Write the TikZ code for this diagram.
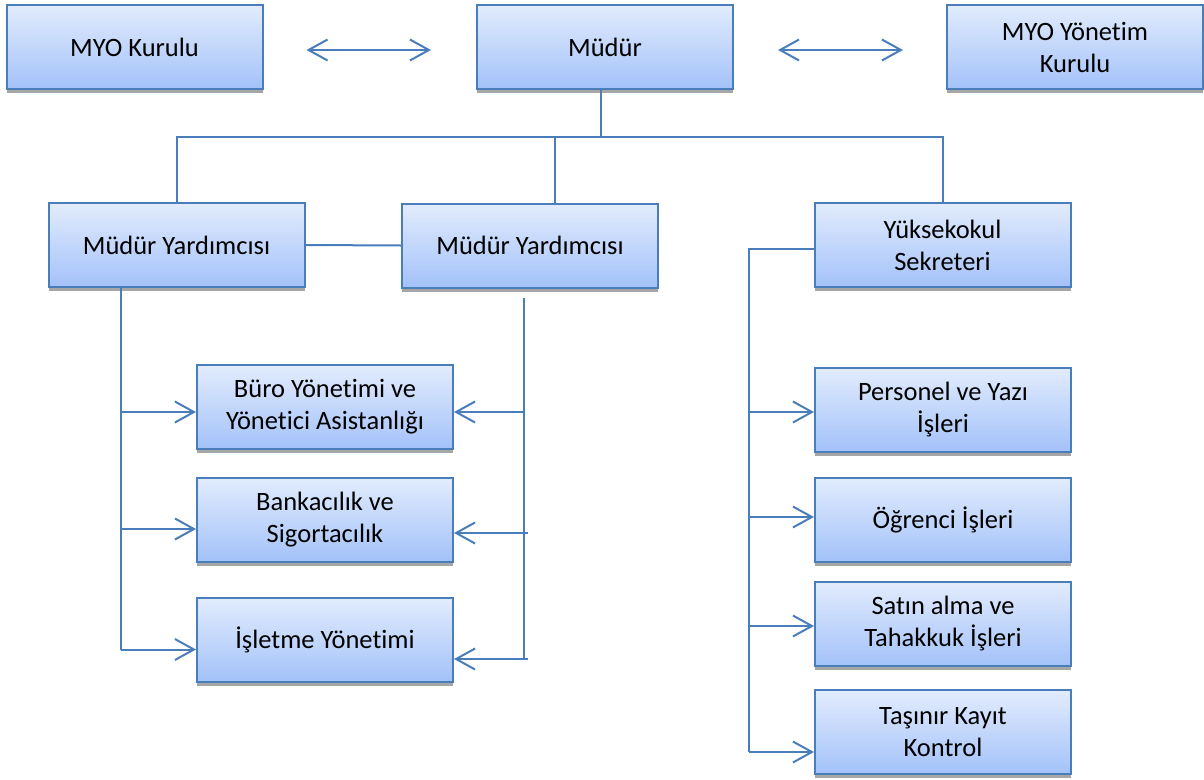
\documentclass[tikz,border=0pt]{standalone}
\usepackage{fontspec}
\setmainfont{Carlito}[Ligatures=NoCommon]
\usetikzlibrary{arrows.meta,shadows,calc}
\definecolor{orgline}{RGB}{74,126,187}
\definecolor{orgtop}{RGB}{226,236,253}
\definecolor{orgbot}{RGB}{163,194,249}

\begin{document}
\begin{tikzpicture}[x=1pt,y=-1pt,
    unit/.style={draw=orgline,line width=2pt,top color=orgtop,bottom color=orgbot,
        minimum width=256pt,minimum height=84pt,align=center,
        font=\fontsize{26.5}{32}\selectfont,
        drop shadow={shadow xshift=0pt,shadow yshift=-4pt,fill=black!35,opacity=1}},
    link/.style={draw=orgline,line width=2pt},
    feed/.style={link,-{Straight Barb[length=19pt,width=21pt]}},
    both/.style={link,{Straight Barb[length=19pt,width=21pt]}-{Straight Barb[length=19pt,width=21pt]}}]
    \useasboundingbox (0,0) rectangle (1204,779);

    % top row
    \node[unit] (kurul) at (134.5,47) {MYO Kurulu};
    \node[unit] (mudur) at (605,47) {Müdür};
    \node[unit] (yonetim) at (1075,47) {MYO Yönetim\\Kurulu};
    \draw[both] ($(kurul.east)+(43,3)$) -- ($(mudur.west)+(-45,3)$);
    \draw[both] ($(mudur.east)+(44,3)$) -- ($(yonetim.west)+(-43,3)$);

    % second row
    \node[unit] (my1) at (176.5,245) {Müdür Yardımcısı};
    \node[unit] (my2) at (530,245.5) {Müdür Yardımcısı};
    \node[unit] (ys) at (942.5,245) {Yüksekokul\\Sekreteri};
    \coordinate (bus) at (601,137);
    \draw[link] ($(mudur.south)+(-4,0)$) -- (bus);
    \draw[link] (my1.north) |- (ys.north |- bus) -- (ys.north);
    \draw[link] ($(my2.north)+(25,0)$) -- ($(my2.north |- bus)+(25,0)$);
    \draw[link] (my1.east) -- (my2.west);

    % programmes
    \node[unit] (buro) at (325,407) {Büro Yönetimi ve\\Yönetici Asistanlığı};
    \node[unit] (bank) at (325,519.5) {Bankacılık ve\\Sigortacılık};
    \node[unit] (isl) at (325,639.5) {İşletme Yönetimi};
    \coordinate (lt) at ($(my1.south)+(-55.5,0)$);
    \coordinate (rt) at (524,298);
    \draw[link] (lt) -- ($(lt |- isl.west)+(0,10)$);
    \draw[link] (rt) -- ($(rt |- isl.east)+(0,19.5)$);
    \foreach \n/\d in {buro/5,bank/9.5,isl/10}
        \draw[feed] ($(lt |- \n.west)+(0,\d)$) -- ($(\n.west)+(0,\d)$);
    \foreach \n/\d/\e in {buro/5/0,bank/13.5/4,isl/19.5/4}
        \draw[feed] ($(rt |- \n.east)+(\e,\d)$) -- ($(\n.east)+(0,\d)$);

    % offices
    \node[unit] (pers) at (943,409.5) {Personel ve Yazı\\İşleri};
    \node[unit] (ogr) at (943,519.5) {Öğrenci İşleri};
    \node[unit] (satin) at (943,624) {Satın alma ve\\Tahakkuk İşleri};
    \node[unit] (tas) at (943,732) {Taşınır Kayıt\\Kontrol};
    \coordinate (st) at (749,249);
    \draw[link] ($(ys.west)+(0,4)$) -- (st) -- ($(st |- tas.west)+(0,20)$);
    \foreach \n/\d in {pers/2.5,ogr/-2.5,satin/2,tas/20}
        \draw[feed] ($(st |- \n.west)+(0,\d)$) -- ($(\n.west)+(0,\d)$);
\end{tikzpicture}
\end{document}
